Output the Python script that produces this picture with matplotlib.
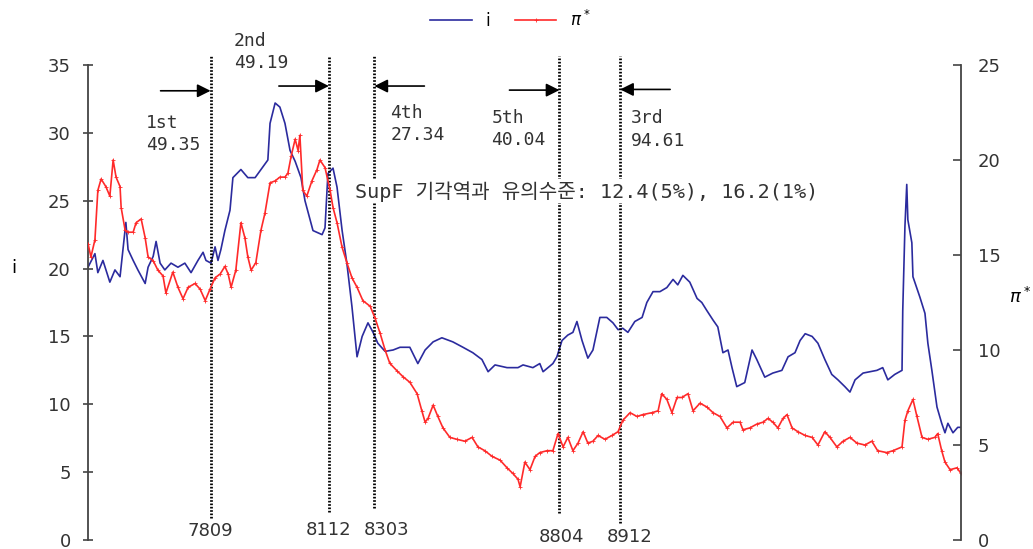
import matplotlib.pyplot as plt

# i (left axis)
blue_x = [1975.30, 1975.49, 1975.57, 1975.71, 1975.90, 1976.04, 1976.18, 1976.34, 1976.40, 1976.54,
          1976.67, 1976.87, 1976.95, 1977.09, 1977.17, 1977.28, 1977.41, 1977.58, 1977.77, 1977.96,
          1978.13, 1978.32, 1978.46, 1978.54, 1978.68, 1978.79, 1978.87, 1978.95, 1979.06, 1979.20,
          1979.28, 1979.50, 1979.69, 1979.89, 1980.05, 1980.24, 1980.30, 1980.44, 1980.57, 1980.71,
          1980.85, 1980.99, 1981.15, 1981.26, 1981.48, 1981.73, 1981.81, 1981.89, 1982.03, 1982.14,
          1982.28, 1982.41, 1982.55, 1982.69, 1982.83, 1982.99, 1983.13, 1983.26, 1983.46, 1983.68,
          1983.87, 1984.14, 1984.36, 1984.56, 1984.78, 1985.02, 1985.32, 1985.60, 1985.87, 1986.12,
          1986.29, 1986.48, 1986.81, 1987.11, 1987.25, 1987.52, 1987.71, 1987.80, 1988.07, 1988.18,
          1988.32, 1988.48, 1988.62, 1988.73, 1988.87, 1989.03, 1989.17, 1989.36, 1989.55, 1989.72,
          1989.86, 1989.99, 1990.13, 1990.32, 1990.52, 1990.65, 1990.82, 1991.01, 1991.20, 1991.37,
          1991.50, 1991.64, 1991.83, 1992.03, 1992.16, 1992.30, 1992.47, 1992.60, 1992.74, 1992.88,
          1992.99, 1993.12, 1993.34, 1993.54, 1993.67, 1993.89, 1994.11, 1994.36, 1994.53, 1994.72,
          1994.86, 1995.00, 1995.19, 1995.35, 1995.54, 1995.73, 1995.90, 1996.09, 1996.23, 1996.37,
          1996.59, 1996.78, 1996.97, 1997.13, 1997.27, 1997.46, 1997.66, 1997.68, 1997.74, 1997.79,
          1997.82, 1997.93, 1997.96, 1998.15, 1998.29, 1998.37, 1998.48, 1998.62, 1998.75, 1998.84,
          1998.92, 1999.06, 1999.19, 1999.28]
blue_i = [20.1, 21.1, 19.7, 20.6, 19.0, 19.9, 19.4, 23.4, 21.4, 20.6,
          19.9, 18.9, 20.1, 20.9, 22.0, 20.4, 19.9, 20.4, 20.1, 20.4,
          19.7, 20.6, 21.2, 20.6, 20.4, 21.6, 20.6, 21.4, 22.8, 24.3,
          26.7, 27.3, 26.7, 26.7, 27.3, 28.0, 30.7, 32.2, 31.9, 30.7,
          28.7, 27.9, 26.7, 25.0, 22.8, 22.5, 23.0, 27.0, 27.4, 26.0,
          22.8, 20.4, 17.2, 13.5, 15.0, 16.0, 15.3, 14.5, 13.9, 14.0,
          14.2, 14.2, 13.0, 14.0, 14.6, 14.9, 14.6, 14.2, 13.8, 13.3,
          12.4, 12.9, 12.7, 12.7, 12.9, 12.7, 13.0, 12.4, 13.0, 13.5,
          14.7, 15.1, 15.3, 16.1, 14.7, 13.4, 14.0, 16.4, 16.4, 16.0,
          15.5, 15.6, 15.3, 16.1, 16.4, 17.5, 18.3, 18.3, 18.6, 19.2,
          18.8, 19.5, 19.0, 17.8, 17.5, 16.9, 16.2, 15.7, 13.8, 14.0,
          12.7, 11.3, 11.6, 14.0, 13.3, 12.0, 12.3, 12.5, 13.5, 13.8,
          14.7, 15.2, 15.0, 14.5, 13.3, 12.2, 11.8, 11.3, 10.9, 11.8,
          12.3, 12.4, 12.5, 12.7, 11.8, 12.2, 12.5, 16.9, 23.1, 26.2,
          23.6, 21.9, 19.4, 17.9, 16.7, 14.5, 12.5, 9.8, 8.6, 7.9,
          8.6, 7.9, 8.3, 8.3]

# pi* (right axis)
red_x = [1975.30, 1975.38, 1975.49, 1975.57, 1975.66, 1975.79, 1975.90, 1975.99, 1976.07, 1976.18,
         1976.21, 1976.32, 1976.40, 1976.54, 1976.62, 1976.76, 1976.87, 1976.95, 1977.09, 1977.22,
         1977.36, 1977.44, 1977.63, 1977.77, 1977.91, 1978.05, 1978.24, 1978.38, 1978.52, 1978.65,
         1978.79, 1978.93, 1979.06, 1979.15, 1979.23, 1979.36, 1979.50, 1979.61, 1979.69, 1979.78,
         1979.91, 1980.05, 1980.16, 1980.30, 1980.44, 1980.57, 1980.71, 1980.79, 1980.88, 1980.99,
         1981.07, 1981.12, 1981.20, 1981.31, 1981.45, 1981.59, 1981.67, 1981.81, 1981.95, 1982.03,
         1982.14, 1982.28, 1982.41, 1982.55, 1982.69, 1982.85, 1983.05, 1983.18, 1983.32, 1983.46,
         1983.59, 1983.79, 1983.95, 1984.14, 1984.34, 1984.47, 1984.56, 1984.64, 1984.78, 1984.91,
         1985.05, 1985.24, 1985.43, 1985.65, 1985.85, 1986.01, 1986.20, 1986.40, 1986.62, 1986.81,
         1986.97, 1987.11, 1987.17, 1987.30, 1987.44, 1987.58, 1987.71, 1987.91, 1988.07, 1988.21,
         1988.35, 1988.48, 1988.62, 1988.76, 1988.90, 1989.03, 1989.17, 1989.31, 1989.50, 1989.69,
         1989.86, 1989.99, 1990.19, 1990.38, 1990.54, 1990.79, 1990.96, 1991.06, 1991.20, 1991.34,
         1991.48, 1991.61, 1991.78, 1991.92, 1992.11, 1992.30, 1992.47, 1992.66, 1992.85, 1993.02,
         1993.21, 1993.29, 1993.48, 1993.67, 1993.84, 1993.98, 1994.11, 1994.25, 1994.39, 1994.50,
         1994.64, 1994.80, 1995.00, 1995.19, 1995.35, 1995.54, 1995.68, 1995.87, 1996.04, 1996.23,
         1996.42, 1996.64, 1996.83, 1996.99, 1997.24, 1997.41, 1997.66, 1997.74, 1997.82, 1997.96,
         1998.07, 1998.21, 1998.37, 1998.56, 1998.64, 1998.75, 1998.84, 1998.98, 1999.17, 1999.28]
red_pi = [15.6, 14.9, 15.8, 18.4, 19.0, 18.6, 18.1, 20.0, 19.1, 18.6,
          17.5, 16.3, 16.2, 16.2, 16.7, 16.9, 15.9, 14.9, 14.7, 14.2,
          13.9, 13.0, 14.1, 13.3, 12.7, 13.3, 13.5, 13.2, 12.6, 13.2,
          13.8, 14.0, 14.4, 14.0, 13.3, 14.2, 16.7, 15.9, 14.9, 14.2,
          14.6, 16.3, 17.2, 18.8, 18.9, 19.1, 19.1, 19.3, 20.2, 21.1,
          20.5, 21.3, 18.4, 18.1, 18.9, 19.5, 20.0, 19.6, 18.4, 17.5,
          16.7, 15.4, 14.6, 13.8, 13.3, 12.6, 12.3, 11.7, 10.9, 10.0,
          9.3, 8.9, 8.6, 8.3, 7.7, 6.8, 6.2, 6.4, 7.1, 6.5,
          5.9, 5.4, 5.3, 5.2, 5.4, 4.9, 4.7, 4.4, 4.2, 3.8,
          3.5, 3.2, 2.8, 4.1, 3.7, 4.4, 4.6, 4.7, 4.7, 5.6,
          4.9, 5.4, 4.7, 5.1, 5.7, 5.1, 5.2, 5.5, 5.3, 5.5,
          5.7, 6.3, 6.7, 6.5, 6.6, 6.7, 6.8, 7.7, 7.4, 6.7,
          7.5, 7.5, 7.7, 6.8, 7.2, 7.0, 6.7, 6.5, 5.9, 6.2,
          6.2, 5.8, 5.9, 6.1, 6.2, 6.4, 6.2, 5.9, 6.4, 6.6,
          5.9, 5.7, 5.5, 5.4, 5.0, 5.7, 5.4, 4.9, 5.2, 5.4,
          5.1, 5.0, 5.2, 4.7, 4.6, 4.7, 4.9, 6.3, 6.8, 7.4,
          6.5, 5.4, 5.3, 5.4, 5.6, 4.7, 4.1, 3.7, 3.8, 3.5]

breaks = ['7809', '8112', '8303', '8804', '8912']
orders = ['1st', '2nd', '4th', '5th', '3rd']
supf = ['49.35', '49.19', '27.34', '40.04', '94.61']
note = 'SupF 기각역과 유의수준: 12.4(5%), 16.2(1%)'

# where the notes sit
arrow_dir = [1, 1, -1, 1, -1]
arrow_y = [33.1, 33.45, 33.45, 33.15, 33.2]
text_dx = [-65, -95, 16, -68, 11]
text_y = [29.9, 35.96, 30.65, 30.28, 30.25]
line_bot = [0.046, 0.059, 0.067, 0.057, 0.036]
lab_dx = [0, 0, 12, 2, 9]
lab_y = [0.019, 0.021, 0.021, 0.006, 0.006]


def to_year(s):
    return 1900 + int(s[:2]) + (int(s[2:]) - 1) / 12


fig = plt.figure(figsize=(10.33, 5.49), dpi=100)
ax = fig.add_axes([0.0852, 0.0164, 0.8451, 0.8652])
ax2 = ax.twinx()

l1, = ax.plot(blue_x, blue_i, color='#2b2b9e', lw=1.2, label='i')
l2, = ax2.plot(red_x, red_pi, color='#ff2a2a', lw=1.2, marker='+', ms=3, mew=0.6,
               label=r'$\pi^*$')

ax.set_xlim(1975.30, 1999.28)
ax.set_ylim(0, 35)
ax2.set_ylim(0, 25)
ax.set_yticks(range(0, 36, 5))
ax2.set_yticks(range(0, 26, 5))
ax.set_xticks([])

for a in (ax, ax2):
    a.spines['top'].set_visible(False)
    a.spines['bottom'].set_visible(False)
ax.spines['right'].set_visible(False)
ax2.spines['left'].set_visible(False)
ax.spines['left'].set_color('#444444')
ax2.spines['right'].set_color('#444444')
ax.spines['left'].set_linewidth(1.3)
ax2.spines['right'].set_linewidth(1.3)

ax.tick_params(axis='y', direction='inout', length=7, width=1.2, color='#444444',
               labelsize=13, labelcolor='#333333', pad=9)
ax2.tick_params(axis='y', direction='in', length=6, width=1.2, color='#444444',
                labelsize=13, labelcolor='#333333', pad=12)

for k in range(len(breaks)):
    bx = to_year(breaks[k])
    ax.axvline(bx, ymin=line_bot[k], ymax=1.02, color='black', ls=(0, (0.6, 0.6)),
               lw=2, clip_on=False)
    ax.annotate('', xy=(bx, arrow_y[k]), xytext=(-50 * arrow_dir[k], 0),
                textcoords='offset pixels', annotation_clip=False,
                arrowprops=dict(arrowstyle='-|>', color='black', lw=1.2,
                                mutation_scale=20, shrinkA=0, shrinkB=0))
    ax.annotate(orders[k] + '\n' + supf[k], xy=(bx, text_y[k]), xytext=(text_dx[k], 0),
                textcoords='offset pixels', ha='left', va='center',
                family='DejaVu Sans Mono', fontsize=13, color='#333333',
                linespacing=1.3, annotation_clip=False)
    ax.annotate(breaks[k], xy=(bx, lab_y[k]), xycoords=ax.get_xaxis_transform(),
                xytext=(lab_dx[k], 0), textcoords='offset pixels',
                ha='center', va='center', fontsize=13, color='#333333',
                annotation_clip=False)

ax.text(1982.63, 25.7, note, ha='left', va='center', fontsize=14.5, color='#333333',
        family=['DejaVu Sans Mono', 'Noto Sans CJK KR'], zorder=6,
        bbox=dict(facecolor='white', edgecolor='none', pad=1))

fig.text(14 / 1033, 1 - 268 / 549, 'i', fontsize=13, ha='center', va='center')
fig.text(1020 / 1033, 1 - 297 / 549, r'$\pi^*$', fontsize=13, ha='center', va='center')

fig.legend([l1, l2], ['i', r'$\pi^*$'], loc='center', bbox_to_anchor=(0.494, 0.964),
           ncol=2, frameon=False, fontsize=12, handlelength=2.5, columnspacing=1.5)

fig.savefig('out.png', dpi=100)
